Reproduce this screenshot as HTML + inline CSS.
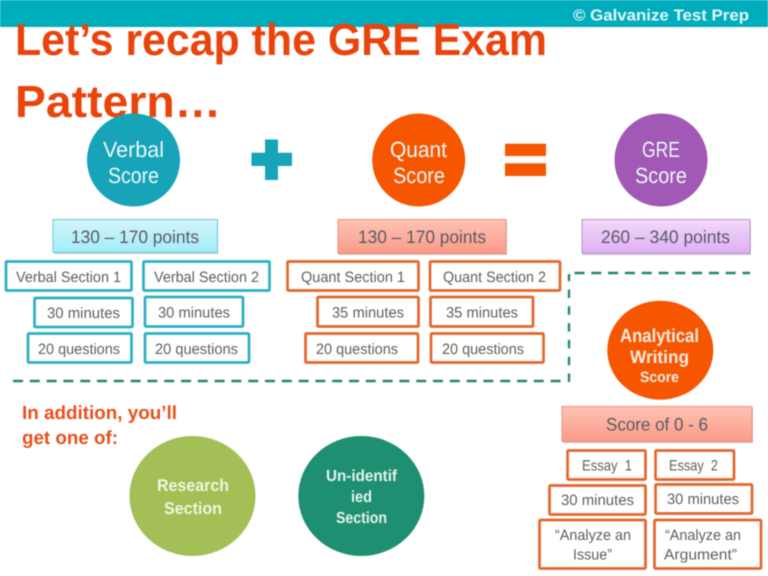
<!DOCTYPE html>
<html><head><meta charset="utf-8"><style>
html,body{margin:0;padding:0;background:#fff;width:768px;height:576px;overflow:hidden}
svg{display:block;filter:blur(.45px)}
text{font-family:"Liberation Sans",sans-serif;text-rendering:geometricPrecision;white-space:pre}
.g{fill:#5f5f5f;font-size:15px}
.p{fill:#5a5a64;font-size:18px}
.c{fill:#e8f8fa;font-size:22px}
rect.tb{fill:#fff;stroke:#2bb0c0;stroke-width:2.7}
rect.ob{fill:#fff;stroke:#e4662c;stroke-width:2.7}
</style></head><body>
<svg width="768" height="576" viewBox="0 0 768 576" xmlns="http://www.w3.org/2000/svg">
<defs>
<linearGradient id="gb" x1="0" y1="0" x2="0" y2="1"><stop offset="0" stop-color="#d3f4fa"/><stop offset="1" stop-color="#a2eef9"/></linearGradient>
<linearGradient id="gr" x1="0" y1="0" x2="0" y2="1"><stop offset="0" stop-color="#fdc3b4"/><stop offset="1" stop-color="#fb9a88"/></linearGradient>
<linearGradient id="gp" x1="0" y1="0" x2="0" y2="1"><stop offset="0" stop-color="#f2d9fa"/><stop offset="1" stop-color="#e0aef4"/></linearGradient>
</defs>
<rect width="768" height="576" fill="#fff"/>

<rect x="0" y="0" width="768" height="27" fill="#00adbd"/>
<text x="573" y="20.500" font-size="16" font-weight="bold" fill="#e6f7f9" textLength="176" lengthAdjust="spacingAndGlyphs">© Galvanize Test Prep</text>

<text x="15" y="55" font-size="45" font-weight="bold" fill="#e8440c" textLength="532" lengthAdjust="spacingAndGlyphs">Let’s recap the GRE Exam</text>
<text x="15" y="117" font-size="45" font-weight="bold" fill="#e8440c" textLength="206" lengthAdjust="spacingAndGlyphs">Pattern…</text>

<circle cx="133.500" cy="160" r="46.500" fill="#17a3b8"/>
<circle cx="418.700" cy="160" r="46.500" fill="#f75600"/>
<circle cx="661" cy="160" r="46.500" fill="#a258b5"/>
<text class="c" x="103" y="157" textLength="61" lengthAdjust="spacingAndGlyphs">Verbal</text>
<text class="c" x="108" y="183" textLength="51" lengthAdjust="spacingAndGlyphs">Score</text>
<text class="c" x="390" y="157" textLength="57" lengthAdjust="spacingAndGlyphs">Quant</text>
<text class="c" x="393" y="183" textLength="52" lengthAdjust="spacingAndGlyphs">Score</text>
<text class="c" x="642" y="157" textLength="38" lengthAdjust="spacingAndGlyphs">GRE</text>
<text class="c" x="635" y="183" textLength="52" lengthAdjust="spacingAndGlyphs">Score</text>

<path d="M265 139.500h13v13.200h14v13.300h-14v14h-13v-14h-13.500v-13.300h13.500z" fill="#17a3b8"/>
<rect x="505" y="143.700" width="41" height="12.300" fill="#f75600"/>
<rect x="505" y="163.300" width="41" height="12.700" fill="#f75600"/>

<rect x="54" y="221" width="164" height="33" fill="#9aa" opacity=".5"/>
<rect x="53" y="219.500" width="164.500" height="33" fill="url(#gb)" stroke="#6cc6d4"/>
<rect x="339" y="221" width="168" height="34" fill="#a88" opacity=".5"/>
<rect x="338" y="219.500" width="168" height="34" fill="url(#gr)" stroke="#ee8f78"/>
<rect x="583" y="221" width="168" height="34" fill="#a9a" opacity=".5"/>
<rect x="582" y="219.500" width="168" height="34" fill="url(#gp)" stroke="#b795c8"/>
<text class="p" x="71" y="243" textLength="128" lengthAdjust="spacingAndGlyphs">130 – 170 points</text>
<text class="p" x="358" y="243" textLength="128" lengthAdjust="spacingAndGlyphs">130 – 170 points</text>
<text class="p" x="601" y="243" textLength="129" lengthAdjust="spacingAndGlyphs">260 – 340 points</text>

<rect class="tb" x="6" y="261.500" width="125.500" height="29" rx="1"/>
<rect class="tb" x="143.500" y="261.500" width="126" height="29" rx="1"/>
<rect class="ob" x="287.500" y="261.500" width="131" height="29" rx="1"/>
<rect class="ob" x="430" y="261.500" width="130" height="29" rx="1"/>
<text class="g" x="16" y="282" textLength="105" lengthAdjust="spacingAndGlyphs">Verbal Section 1</text>
<text class="g" x="154" y="282" textLength="105" lengthAdjust="spacingAndGlyphs">Verbal Section 2</text>
<text class="g" x="301" y="282" textLength="104" lengthAdjust="spacingAndGlyphs">Quant Section 1</text>
<text class="g" x="443" y="282" textLength="103" lengthAdjust="spacingAndGlyphs">Quant Section 2</text>

<rect class="tb" x="34.500" y="298" width="98" height="29" rx="1"/>
<rect class="tb" x="145" y="297" width="98" height="29.500" rx="1"/>
<rect class="ob" x="317.500" y="297" width="101" height="29.500" rx="1"/>
<rect class="ob" x="430.500" y="297" width="102.500" height="29.500" rx="1"/>
<text class="g" x="47" y="318" textLength="73" lengthAdjust="spacingAndGlyphs">30 minutes</text>
<text class="g" x="158" y="317.500" textLength="72" lengthAdjust="spacingAndGlyphs">30 minutes</text>
<text class="g" x="332" y="317.500" textLength="72" lengthAdjust="spacingAndGlyphs">35 minutes</text>
<text class="g" x="446" y="317.500" textLength="72" lengthAdjust="spacingAndGlyphs">35 minutes</text>

<rect class="tb" x="28" y="333.500" width="103.500" height="29" rx="1"/>
<rect class="tb" x="145" y="333.500" width="104" height="29" rx="1"/>
<rect class="ob" x="305.500" y="333.500" width="112.500" height="29" rx="1"/>
<rect class="ob" x="431" y="333.500" width="112.500" height="29" rx="1"/>
<text class="g" x="38" y="354" textLength="82" lengthAdjust="spacingAndGlyphs">20 questions</text>
<text class="g" x="155" y="354" textLength="83" lengthAdjust="spacingAndGlyphs">20 questions</text>
<text class="g" x="316" y="354" textLength="82" lengthAdjust="spacingAndGlyphs">20 questions</text>
<text class="g" x="442" y="354" textLength="82" lengthAdjust="spacingAndGlyphs">20 questions</text>

<path d="M13 381H561" fill="none" stroke="#1f8a70" stroke-width="2.400" stroke-dasharray="10 6.800"/>
<path d="M569 382V274" fill="none" stroke="#1f8a70" stroke-width="2.400" stroke-dasharray="8.500 8.300"/>
<path d="M574.500 273H750" fill="none" stroke="#1f8a70" stroke-width="2.400" stroke-dasharray="10 6.800"/>

<ellipse cx="660.300" cy="350.200" rx="53" ry="49.500" fill="#f75600"/>
<text x="620" y="342" font-size="19" font-weight="bold" fill="#f3ebe2" textLength="79" lengthAdjust="spacingAndGlyphs">Analytical</text>
<text x="630" y="363" font-size="18" font-weight="bold" fill="#f3ebe2" textLength="59" lengthAdjust="spacingAndGlyphs">Writing</text>
<text x="640" y="382" font-size="15" font-weight="bold" fill="#f3ebe2" textLength="39" lengthAdjust="spacingAndGlyphs">Score</text>

<rect x="563" y="408" width="190" height="35" fill="#a88" opacity=".5"/>
<rect x="562" y="406.500" width="190" height="35" fill="url(#gr)" stroke="#ee8f78"/>
<text class="p" x="606" y="430.500" textLength="102" lengthAdjust="spacingAndGlyphs">Score of 0 - 6</text>

<rect class="ob" x="567.500" y="450.500" width="78" height="29" rx="1"/>
<rect class="ob" x="655.500" y="450.500" width="78.500" height="29" rx="1"/>
<text class="g" x="582" y="470.500" textLength="50" lengthAdjust="spacingAndGlyphs">Essay  1</text>
<text class="g" x="669" y="470.500" textLength="49" lengthAdjust="spacingAndGlyphs">Essay  2</text>

<rect class="ob" x="549.500" y="485.500" width="96" height="29" rx="1"/>
<rect class="ob" x="655.500" y="484.500" width="96.500" height="29" rx="1"/>
<text class="g" x="561" y="505" textLength="73" lengthAdjust="spacingAndGlyphs">30 minutes</text>
<text class="g" x="667" y="504" textLength="72" lengthAdjust="spacingAndGlyphs">30 minutes</text>

<rect class="ob" x="539.500" y="520" width="106" height="48.500" rx="1"/>
<rect class="ob" x="654.500" y="520" width="106.500" height="48.500" rx="1"/>
<text class="g" x="555" y="540" textLength="76" lengthAdjust="spacingAndGlyphs">“Analyze an</text>
<text class="g" x="573" y="559.500" textLength="39" lengthAdjust="spacingAndGlyphs">Issue”</text>
<text class="g" x="665" y="540" textLength="76" lengthAdjust="spacingAndGlyphs">“Analyze an</text>
<text class="g" x="664" y="559.500" textLength="73" lengthAdjust="spacingAndGlyphs">Argument”</text>

<text x="22" y="419" font-size="19" font-weight="bold" fill="#e8501e" textLength="155" lengthAdjust="spacingAndGlyphs">In addition, you’ll</text>
<text x="22" y="444" font-size="19" font-weight="bold" fill="#e8501e" textLength="96" lengthAdjust="spacingAndGlyphs">get one of:</text>

<ellipse cx="192.500" cy="496" rx="63" ry="60" fill="#a3bf56"/>
<ellipse cx="361.300" cy="496" rx="63" ry="60" fill="#1f8f72"/>
<text x="157" y="491" font-size="17" font-weight="bold" fill="#f0f5e0" textLength="72" lengthAdjust="spacingAndGlyphs">Research</text>
<text x="164" y="514" font-size="17" font-weight="bold" fill="#f0f5e0" textLength="58" lengthAdjust="spacingAndGlyphs">Section</text>
<text x="326" y="481" font-size="16" font-weight="bold" fill="#e6f3ee" textLength="71" lengthAdjust="spacingAndGlyphs">Un-identif</text>
<text x="351" y="502" font-size="16" font-weight="bold" fill="#e6f3ee" textLength="21" lengthAdjust="spacingAndGlyphs">ied</text>
<text x="336" y="523" font-size="16" font-weight="bold" fill="#e6f3ee" textLength="51" lengthAdjust="spacingAndGlyphs">Section</text>
</svg>
</body></html>
